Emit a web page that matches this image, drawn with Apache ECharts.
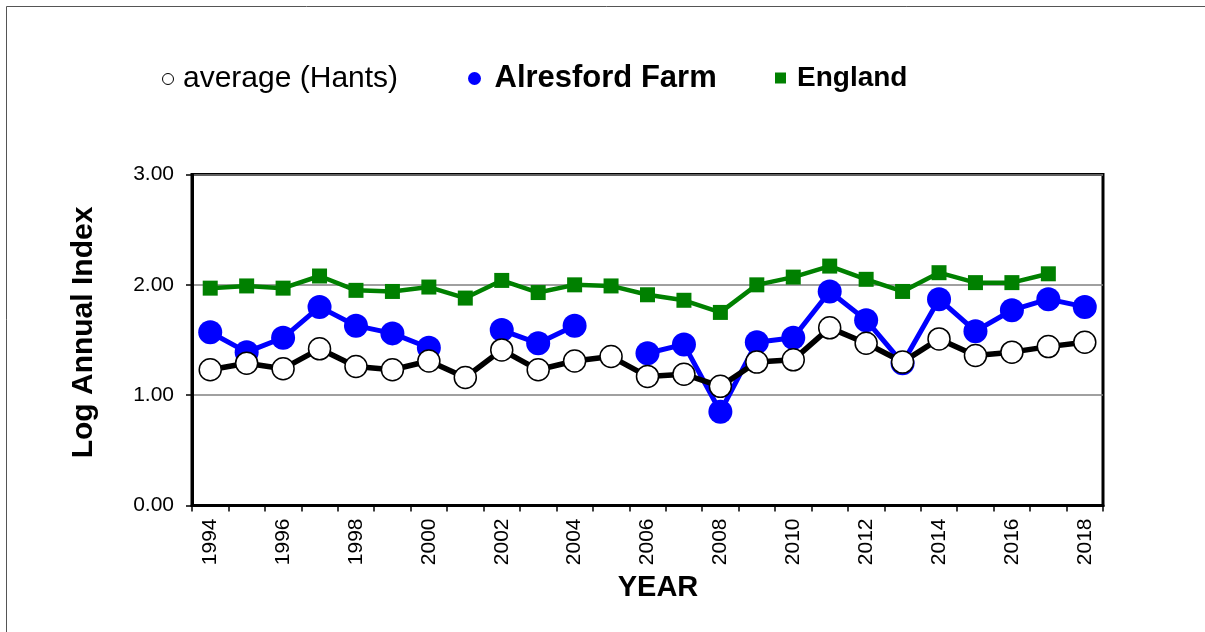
<!DOCTYPE html>
<html>
<head>
<meta charset="utf-8">
<script src="https://cdn.jsdelivr.net/npm/echarts@6/dist/echarts.min.js"></script>
<style>
  html, body { margin: 0; padding: 0; background: #fff; }
  #chart { width: 1205px; height: 632px; }
</style>
</head>
<body>
<div id="chart"></div>
<script>
var years = ['1994','1995','1996','1997','1998','1999','2000','2001','2002','2003','2004','2005','2006',
             '2007','2008','2009','2010','2011','2012','2013','2014','2015','2016','2017','2018'];
var avgHants = [1.23, 1.29, 1.24, 1.42, 1.26, 1.23, 1.31, 1.16, 1.41, 1.23, 1.31, 1.35, 1.17,
                1.19, 1.08, 1.30, 1.32, 1.61, 1.47, 1.30, 1.51, 1.36, 1.39, 1.44, 1.48];
var alresford = [1.57, 1.39, 1.52, 1.80, 1.63, 1.56, 1.43, null, 1.59, 1.47, 1.63, null, 1.38,
                 1.46, 0.85, 1.48, 1.52, 1.94, 1.68, 1.29, 1.87, 1.58, 1.77, 1.87, 1.80];
var england = [1.97, 1.99, 1.97, 2.08, 1.95, 1.94, 1.98, 1.88, 2.04, 1.93, 2.00, 1.99, 1.91,
               1.86, 1.75, 2.00, 2.07, 2.17, 2.05, 1.94, 2.11, 2.02, 2.02, 2.10, null];

var FONT = '"Liberation Sans", Arial, sans-serif';

var chart = echarts.init(document.getElementById('chart'));
chart.setOption({
  animation: false,
  backgroundColor: '#fff',
  graphic: [{
    type: 'rect',
    shape: {x: 6.5, y: 6.5, width: 1300, height: 700},
    style: {fill: 'none', stroke: '#555', lineWidth: 1}
  }],
  legend: [{
    left: 157, top: 59,
    itemWidth: 12, itemHeight: 11,
    data: [{name: 'average (Hants)', icon: 'circle',
            itemStyle: {color: '#fff', borderColor: '#000', borderWidth: 1}}],
    textStyle: {fontFamily: FONT, fontSize: 30, color: '#000', padding: [0, 0, 0, 4]}
  }, {
    left: 463, top: 58,
    itemWidth: 14, itemHeight: 13,
    data: [{name: 'Alresford Farm', icon: 'circle', itemStyle: {color: '#0000ff', borderWidth: 0}}],
    textStyle: {fontFamily: FONT, fontSize: 31, fontWeight: 'bold', color: '#000', padding: [0, 0, 0, 8]}
  }, {
    left: 770, top: 59,
    itemWidth: 11, itemHeight: 11,
    data: [{name: 'England', icon: 'rect', itemStyle: {color: '#008000', borderWidth: 0}}],
    textStyle: {fontFamily: FONT, fontSize: 28, fontWeight: 'bold', color: '#000', padding: [0, 0, 0, 6]}
  }],
  grid: {
    left: 192, right: 102, top: 174.5, bottom: 126.5,
    show: true, borderColor: '#000', borderWidth: 3, backgroundColor: 'transparent'
  },
  xAxis: {
    type: 'category',
    data: years,
    boundaryGap: true,
    name: 'YEAR',
    nameLocation: 'middle',
    nameGap: 64,
    nameTextStyle: {fontFamily: FONT, fontSize: 29, fontWeight: 'bold', color: '#000', padding: [0, 0, 0, 21]},
    axisLine: {lineStyle: {color: '#000', width: 3}},
    axisTick: {show: true, interval: 0, length: 6, lineStyle: {color: '#000', width: 1.5}},
    axisLabel: {interval: 1, rotate: 90, margin: 13, fontFamily: FONT, fontSize: 21, color: '#000'},
    splitLine: {show: false}
  },
  yAxis: {
    type: 'value',
    min: 0, max: 3, interval: 1,
    name: 'Log Annual Index',
    nameLocation: 'middle',
    nameGap: 93,
    nameRotate: 90,
    nameTextStyle: {fontFamily: FONT, fontSize: 30, fontWeight: 'bold', color: '#000', padding: [0, 0, 0, 15]},
    axisLine: {show: true, lineStyle: {color: '#000', width: 3}},
    axisTick: {show: true, length: 6, lineStyle: {color: '#000', width: 1.5}},
    axisLabel: {margin: 18, fontFamily: FONT, fontSize: 21, color: '#000',
                formatter: function (v) { return v.toFixed(2); }},
    splitLine: {show: true, lineStyle: {color: '#808080', width: 1.5}}
  },
  series: [{
    name: 'England',
    type: 'line',
    data: england,
    symbol: 'rect',
    symbolSize: 15,
    connectNulls: false,
    itemStyle: {color: '#008000'},
    lineStyle: {color: '#008000', width: 4.5}
  }, {
    name: 'Alresford Farm',
    type: 'line',
    data: alresford,
    symbol: 'circle',
    symbolSize: 24,
    connectNulls: false,
    itemStyle: {color: '#0000ff'},
    lineStyle: {color: '#0000ff', width: 5}
  }, {
    name: 'average (Hants)',
    type: 'line',
    data: avgHants,
    symbol: 'circle',
    symbolSize: 22,
    itemStyle: {color: '#fff', borderColor: '#000', borderWidth: 1.5},
    lineStyle: {color: '#000', width: 5.5}
  }]
});
</script>
</body>
</html>
